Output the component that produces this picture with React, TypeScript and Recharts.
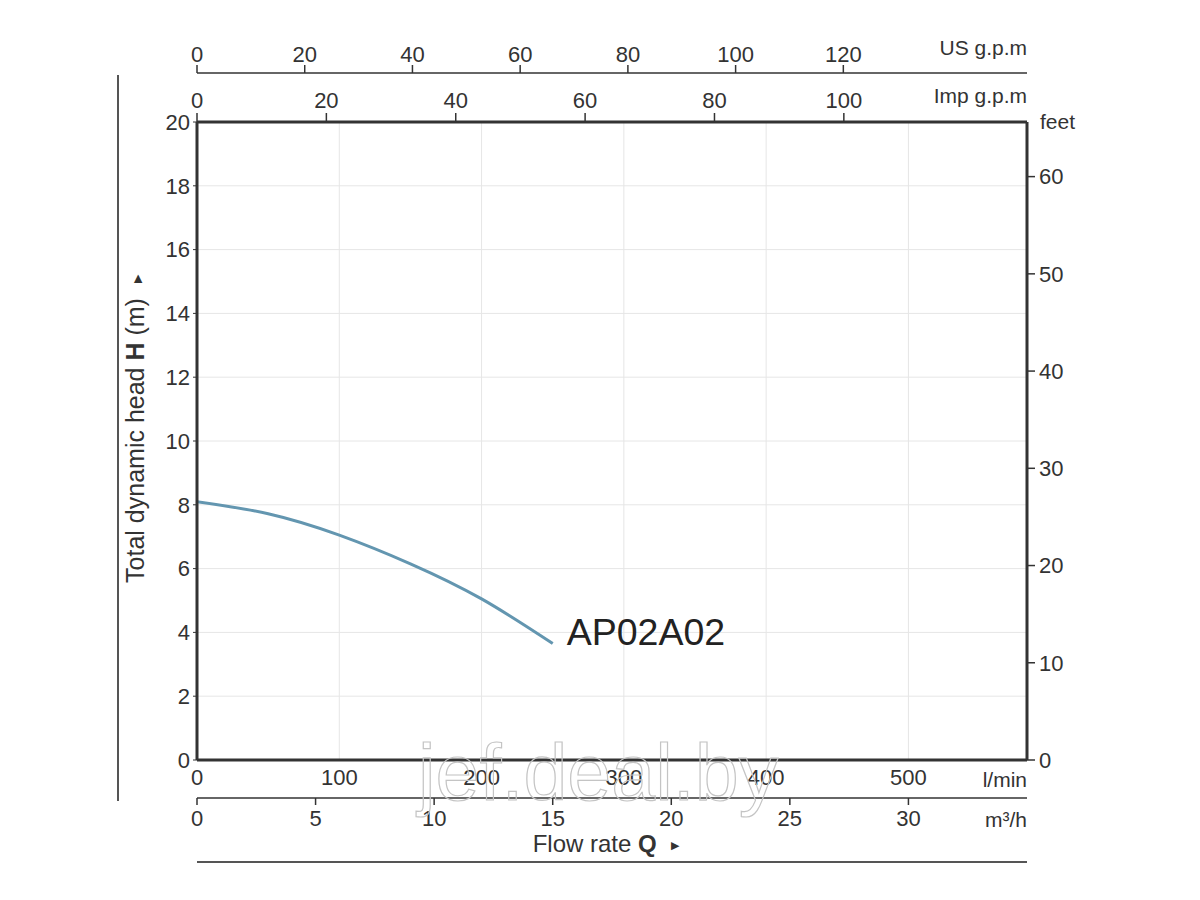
import React from 'react';
import { LineChart, Line, XAxis, YAxis, CartesianGrid, Label } from 'recharts';

// pump curve (flow in l/min, head in m)
const flowLmin = [0, 50, 100, 150, 200, 250];
const headM = [8.1, 7.72, 7.05, 6.15, 5.05, 3.65];
const modelName = 'AP02A02';

const lminTicks = [0, 100, 200, 300, 400, 500];
const m3hTicks = [0, 5, 10, 15, 20, 25, 30];
const usGpmTicks = [0, 20, 40, 60, 80, 100, 120];
const impGpmTicks = [0, 20, 40, 60, 80, 100];
const headTicks = [0, 2, 4, 6, 8, 10, 12, 14, 16, 18, 20];
const feetTicks = [0, 10, 20, 30, 40, 50, 60];

// axis ranges: the sheet runs to 35 m3/h and 20 m
const Q_MAX_M3H = 35;
const H_MAX_M = 20;
const lminMax = (Q_MAX_M3H * 1000) / 60;
const usGpmMax = Q_MAX_M3H * 4.40287;
const impGpmMax = Q_MAX_M3H * 3.66615;
const feetMax = H_MAX_M * 3.28084;

const data = flowLmin.map((q, i) => ({ q, h: headM[i] }));

const FONT = '"Liberation Sans", Arial, Helvetica, sans-serif';
const INK = '#333333';
const tickStyle = { fill: INK, fontSize: 22, fontFamily: FONT };

const unitLabel = (text: string, dy: number) => (props: any) => {
  const vb = props.viewBox || {};
  return (
    <text x={vb.x + vb.width} y={vb.y + dy} textAnchor="end" fill={INK} fontSize={21} fontFamily={FONT}>
      {text}
    </text>
  );
};

const endLabel = (props: any) => {
  const { x, y, index } = props;
  if (index !== data.length - 1) return null;
  return (
    <text x={x + 14} y={y + 1} fill="#222" fontSize={37.5} fontFamily={FONT}>
      {modelName}
    </text>
  );
};

export default function App() {
  return (
    <div style={{ position: 'absolute', left: 0, top: 0, width: 1200, height: 900, background: '#fff' }}>
      <LineChart
        width={1200}
        height={900}
        data={data}
        margin={{ top: 23, right: 113, bottom: 62, left: 137 }}
      >
        <CartesianGrid xAxisId="lmin" yAxisId="m" stroke="#e6e6e6" strokeWidth={1} />

        <XAxis
          xAxisId="lmin"
          dataKey="q"
          type="number"
          orientation="bottom"
          domain={[0, lminMax]}
          allowDataOverflow
          ticks={lminTicks}
          height={38}
          tickLine={false}
          tickSize={6}
          tickMargin={3}
          tick={tickStyle}
          axisLine={{ stroke: INK, strokeWidth: 3 }}
        >
          <Label content={unitLabel('l/min', 27)} />
        </XAxis>
        <XAxis
          xAxisId="m3h"
          dataKey="q"
          type="number"
          orientation="bottom"
          domain={[0, Q_MAX_M3H]}
          allowDataOverflow
          ticks={m3hTicks}
          height={40}
          tickSize={7}
          tickMargin={5}
          tick={tickStyle}
          tickLine={{ stroke: INK, strokeWidth: 1.5 }}
          axisLine={{ stroke: INK, strokeWidth: 1.5 }}
        >
          <Label content={unitLabel('m³/h', 29)} />
          <Label
            content={(props: any) => {
              const vb = props.viewBox || {};
              const cx = vb.x + vb.width / 2 - 6;
              return (
                <text x={cx} y={vb.y + 54} textAnchor="middle" fill={INK} fontSize={24} fontFamily={FONT}>
                  Flow rate <tspan fontWeight="bold">Q</tspan> <tspan fontSize={11} dx={8} dy={-3}>▶</tspan>
                </text>
              );
            }}
          />
        </XAxis>

        <XAxis
          xAxisId="imp"
          dataKey="q"
          type="number"
          orientation="top"
          domain={[0, impGpmMax]}
          allowDataOverflow
          ticks={impGpmTicks}
          height={49}
          tickSize={9}
          tickMargin={5}
          tick={tickStyle}
          tickLine={{ stroke: INK, strokeWidth: 1.5 }}
          axisLine={{ stroke: INK, strokeWidth: 3 }}
        >
          <Label content={unitLabel('Imp g.p.m', 30)} />
        </XAxis>
        <XAxis
          xAxisId="us"
          dataKey="q"
          type="number"
          orientation="top"
          domain={[0, usGpmMax]}
          allowDataOverflow
          ticks={usGpmTicks}
          height={50}
          tickSize={8}
          tickMargin={3}
          tick={tickStyle}
          tickLine={{ stroke: INK, strokeWidth: 1.5 }}
          axisLine={{ stroke: INK, strokeWidth: 1.5 }}
        >
          <Label content={unitLabel('US g.p.m', 32)} />
        </XAxis>

        <YAxis
          yAxisId="m"
          type="number"
          orientation="left"
          domain={[0, H_MAX_M]}
          allowDataOverflow
          ticks={headTicks}
          width={60}
          tickSize={4}
          tickMargin={3}
          tick={tickStyle}
          tickLine={{ stroke: INK, strokeWidth: 1 }}
          axisLine={{ stroke: INK, strokeWidth: 3 }}
        >
          <Label
            content={(props: any) => {
              const vb = props.viewBox || {};
              const cx = vb.x + 7;
              const cy = vb.y + vb.height / 2 - 12;
              return (
                <text
                  x={cx}
                  y={cy}
                  transform={`rotate(-90 ${cx} ${cy})`}
                  textAnchor="middle"
                  fill={INK}
                  fontSize={25}
                  fontFamily={FONT}
                >
                  Total dynamic head <tspan fontWeight="bold">H</tspan> (m) <tspan fontSize={11} dx={8} dy={-3}>▶</tspan>
                </text>
              );
            }}
          />
        </YAxis>
        <YAxis
          yAxisId="ft"
          type="number"
          orientation="right"
          domain={[0, feetMax]}
          allowDataOverflow
          ticks={feetTicks}
          width={60}
          tickSize={8}
          tickMargin={4}
          tick={tickStyle}
          tickLine={{ stroke: INK, strokeWidth: 1.5 }}
          axisLine={{ stroke: INK, strokeWidth: 3 }}
        >
          <Label
            content={(props: any) => {
              const vb = props.viewBox || {};
              return (
                <text x={vb.x + 13} y={vb.y + 7} fill={INK} fontSize={21} fontFamily={FONT}>
                  feet
                </text>
              );
            }}
          />
        </YAxis>

        <Line
          xAxisId="lmin"
          yAxisId="m"
          dataKey="h"
          type="natural"
          stroke="#6396b0"
          strokeWidth={3}
          dot={false}
          label={endLabel}
          isAnimationActive={false}
        />
      </LineChart>

      {/* frame lines outside the plot */}
      <div style={{ position: 'absolute', left: 117, top: 75, width: 2, height: 726, background: '#555' }} />
      <div style={{ position: 'absolute', left: 197, top: 861, width: 830, height: 2, background: '#555' }} />

      {/* watermark */}
      <svg width={1200} height={900} style={{ position: 'absolute', left: 0, top: 0, pointerEvents: 'none' }}>
        <text
          x={418}
          y={800}
          fontSize={79}
          fontFamily={FONT}
          fill="none"
          stroke="#c4c4c4"
          strokeWidth={1.2}
        >
          jef.deal.by
        </text>
      </svg>
    </div>
  );
}
